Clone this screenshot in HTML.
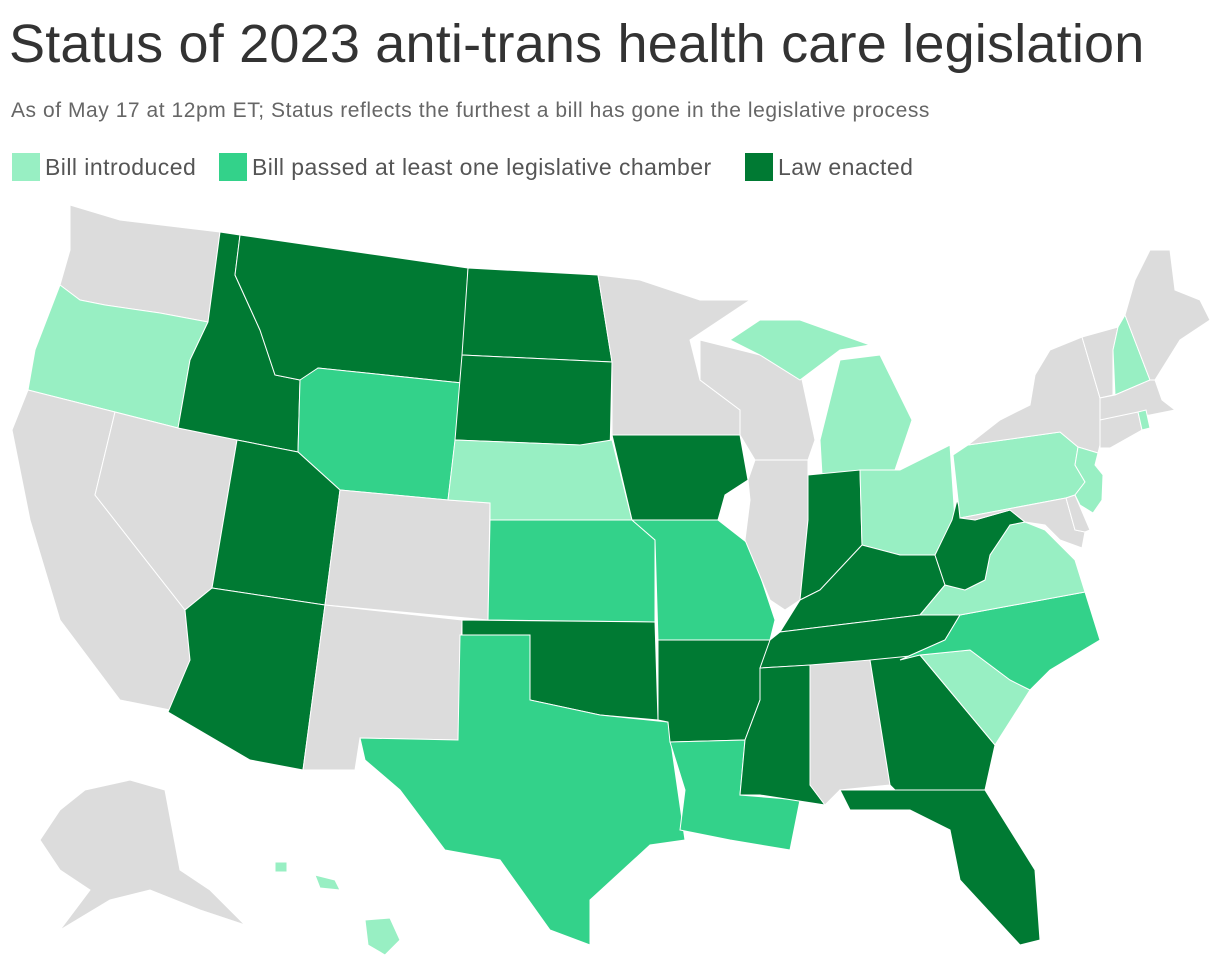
<!DOCTYPE html>
<html><head><meta charset="utf-8"><style>
body{margin:0;background:#fff;width:1220px;height:970px;overflow:hidden;font-family:"Liberation Sans",sans-serif}
#title{position:absolute;left:9px;top:14px;font-size:54px;line-height:60px;color:#333;margin:0;font-weight:normal;letter-spacing:0.2px;white-space:nowrap}
#sub{position:absolute;left:11px;top:99px;font-size:21px;color:#666;letter-spacing:0.55px;white-space:nowrap}
.leg{position:absolute;top:153px;font-size:23px;color:#555;display:flex;align-items:center;letter-spacing:0.45px;white-space:nowrap}
.sw{width:28px;height:28px;margin-right:5px;display:inline-block}
svg{position:absolute;left:0;top:0}
</style></head><body>
<h1 id="title">Status of 2023 anti-trans health care legislation</h1>
<div id="sub">As of May 17 at 12pm ET; Status reflects the furthest a bill has gone in the legislative process</div>
<div class="leg" style="left:12px"><span class="sw" style="background:#98efc3"></span>Bill introduced</div>
<div class="leg" style="left:219px"><span class="sw" style="background:#33d28a"></span>Bill passed at least one legislative chamber</div>
<div class="leg" style="left:745px"><span class="sw" style="background:#007a33"></span>Law enacted</div>
<svg id="map" width="1220" height="970"></svg>
<script>
const states=["WA","OR","CA","NV","ID","MT","WY","UT","CO","AZ","NM","ND","SD","NE","KS","OK","TX","MN","IA","MO","AR","LA","WI","IL","MI","MIU","IN","OH","KY","TN","MS","AL","GA","FL","SC","NC","VA","WV","PA","NY","NJ","MD","DE","VT","NH","ME","MA","CT","RI","AK","HI1","HI2","HI3"];
const status=[0,1,0,0,3,3,2,3,0,3,0,3,3,1,2,3,2,0,3,2,3,2,0,0,1,1,3,1,3,3,3,0,3,3,1,2,1,3,1,0,1,0,0,0,1,0,0,0,1,0,1,1,1];
const colors=["#dcdcdc","#98efc3","#33d28a","#007a33"];
const geo={
WA:[[70,205],[120,220],[220,232],[208,322],[160,313],[105,305],[80,300],[60,285],[70,250]],
OR:[[60,285],[80,300],[105,305],[160,313],[208,322],[190,360],[178,428],[115,412],[28,390],[35,350]],
CA:[[28,390],[115,412],[95,495],[185,610],[190,660],[170,710],[120,700],[60,620],[30,520],[12,430]],
NV:[[115,412],[178,428],[237,440],[212,588],[185,610],[95,495]],
ID:[[220,232],[240,235],[235,275],[260,330],[275,375],[300,380],[298,452],[237,440],[178,428],[190,360],[208,322]],
MT:[[240,235],[468,268],[462,383],[318,368],[315,378],[300,380],[275,375],[260,330],[235,275]],
WY:[[318,368],[462,383],[448,500],[340,490],[298,452],[300,380]],
UT:[[237,440],[298,452],[340,490],[325,605],[212,588]],
CO:[[340,490],[448,500],[490,503],[488,620],[325,605]],
AZ:[[212,588],[325,605],[303,770],[250,760],[168,712],[190,660],[185,610]],
NM:[[325,605],[462,620],[458,740],[360,738],[355,770],[303,770]],
ND:[[468,268],[598,275],[612,362],[462,355]],
SD:[[462,355],[612,362],[610,455],[580,445],[455,440]],
NE:[[455,440],[580,445],[612,440],[632,520],[490,520],[490,503],[448,500]],
KS:[[490,520],[632,520],[655,540],[655,622],[488,620]],
OK:[[462,620],[655,622],[658,720],[600,715],[530,700],[530,635],[462,635]],
TX:[[460,635],[530,635],[530,700],[600,715],[668,722],[685,840],[650,845],[590,900],[590,945],[550,930],[500,860],[445,850],[400,790],[365,760],[360,738],[458,740]],
MN:[[598,275],[640,280],[700,300],[750,300],[690,340],[700,380],[740,410],[740,435],[612,435],[612,362]],
IA:[[612,435],[740,435],[748,480],[725,495],[718,520],[632,520]],
MO:[[632,520],[718,520],[750,545],[775,620],[770,640],[658,640],[655,540]],
AR:[[658,640],[770,640],[760,700],[745,740],[670,742],[668,722],[658,720]],
LA:[[670,742],[745,740],[740,795],[800,800],[790,850],[730,840],[680,830],[685,790]],
WI:[[700,340],[760,355],[800,370],[815,440],[808,460],[755,460],[740,435],[740,410],[700,380]],
IL:[[755,460],[808,460],[808,520],[800,600],[785,610],[770,600],[745,540],[750,500],[748,480]],
MI:[[820,440],[840,360],[880,355],[912,420],[895,470],[822,475]],
MIU:[[730,340],[760,320],[800,320],[870,345],[840,350],[800,380],[760,355]],
IN:[[808,475],[860,470],[862,545],[820,590],[800,600],[808,520]],
OH:[[860,470],[900,470],[950,445],[955,520],[935,555],[900,555],[862,545]],
KY:[[800,600],[820,590],[862,545],[900,555],[935,555],[945,585],[920,615],[780,632]],
TN:[[770,640],[780,632],[920,615],[960,615],[945,640],[900,660],[760,668]],
MS:[[760,668],[810,665],[810,785],[825,805],[760,795],[740,795],[745,740],[760,700]],
AL:[[810,665],[870,660],[890,785],[840,790],[825,805],[810,785]],
GA:[[870,660],[920,655],[995,745],[985,790],[895,790],[890,785]],
FL:[[840,790],[895,790],[985,790],[1035,870],[1040,940],[1020,945],[960,880],[950,830],[910,810],[850,810]],
SC:[[920,655],[970,650],[1010,680],[1030,690],[995,745]],
NC:[[900,660],[945,640],[960,615],[1085,592],[1100,640],[1050,670],[1030,690],[1010,680],[970,650],[920,655]],
VA:[[920,615],[945,585],[965,590],[985,580],[990,555],[1000,540],[1010,525],[1025,522],[1045,530],[1060,545],[1075,560],[1085,592],[960,615]],
WV:[[935,555],[952,520],[957,500],[962,516],[975,520],[1010,510],[1025,522],[1010,525],[1000,540],[990,555],[985,580],[965,590],[945,585]],
PA:[[953,455],[968,445],[1060,432],[1078,447],[1075,465],[1085,482],[1075,495],[1066,498],[960,518]],
NY:[[968,445],[1000,420],[1030,405],[1035,375],[1050,350],[1082,337],[1100,398],[1100,445],[1098,453],[1078,447],[1060,432]],
NJ:[[1078,447],[1098,453],[1095,465],[1103,475],[1102,500],[1093,513],[1080,505],[1075,495],[1085,482],[1075,465]],
MD:[[960,518],[1066,498],[1075,530],[1085,532],[1082,548],[1060,540],[1045,525],[1025,522],[1010,510],[975,520]],
DE:[[1066,498],[1075,495],[1090,530],[1085,532],[1075,530]],
VT:[[1082,337],[1118,327],[1113,350],[1113,395],[1100,398]],
NH:[[1118,327],[1125,315],[1150,380],[1115,395],[1113,350]],
ME:[[1125,315],[1135,280],[1150,250],[1170,250],[1175,290],[1200,300],[1210,320],[1180,340],[1155,380],[1150,380]],
MA:[[1100,398],[1115,395],[1150,380],[1155,380],[1162,400],[1175,410],[1150,415],[1100,420]],
CT:[[1100,420],[1138,412],[1142,430],[1110,448],[1100,448]],
RI:[[1138,412],[1146,410],[1150,428],[1142,430]],
AK:[[85,790],[130,780],[165,790],[180,870],[210,890],[245,925],[200,910],[150,890],[110,900],[60,930],[90,890],[60,870],[40,840],[60,810]],
HI1:[[275,862],[287,862],[287,872],[275,872]],
HI2:[[315,875],[335,880],[340,890],[320,888]],
HI3:[[365,920],[390,918],[400,940],[385,955],[368,945]]
};
const svg=document.getElementById('map');
states.forEach((s,i)=>{
 const p=document.createElementNS('http://www.w3.org/2000/svg','polygon');
 p.setAttribute('points',geo[s].map(q=>q.join(',')).join(' '));
 p.setAttribute('fill',colors[status[i]]);
 p.setAttribute('stroke','#fff');
 p.setAttribute('stroke-width','1');
 
 
 svg.appendChild(p);
});
</script>
</body></html>
